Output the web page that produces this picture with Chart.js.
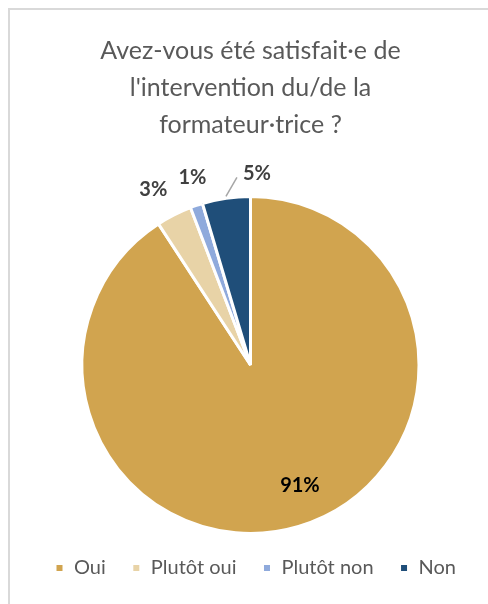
<!DOCTYPE html>
<html>
<head>
<meta charset="utf-8">
<script src="https://cdn.jsdelivr.net/npm/chart.js@4.4.0/dist/chart.umd.min.js"></script>
<style>
  body { margin: 0; background: #fff; }
  #frame { position: absolute; left: 8px; top: 8px; width: 600px; height: 700px;
           border-left: 2px solid #d9d9d9; border-top: 2px solid #d9d9d9; }
  #wrap { position: absolute; left: 0; top: 0; width: 488px; height: 604px; }
</style>
</head>
<body>
<div id="frame"></div>
<div id="wrap"><canvas id="myChart" width="488" height="604"></canvas></div>
<script>
// données
const categories = ['Oui', 'Plutôt oui', 'Plutôt non', 'Non'];
const values = [90.8, 3.4, 1.2, 4.6];
const colors = ['#D1A44F', '#E8D3A7', '#8FAADC', '#1F4E79'];
const titleLines = ["Avez-vous été satisfait·e de", "l'intervention du/de la", "formateur·trice ?"];

// étiquettes de pourcentage
const pctLabels = {
    id: 'pctLabels',
    afterLayout(chart) {
        // légende un peu décalée comme dans l'original
        chart.legend.left += 5;
        chart.legend.right += 5;
        chart.legend.top -= 3;
        chart.legend.bottom -= 3;
    },
    afterDatasetsDraw(chart) {
        const ctx = chart.ctx;
        const meta = chart.getDatasetMeta(0);
        const total = values.reduce((a, b) => a + b, 0);
        const nudge = [[12, -5], [-8, 0], [5, -1]];
        ctx.save();
        ctx.font = 'bold 20px Lato';
        ctx.textAlign = 'center';
        ctx.textBaseline = 'middle';
        meta.data.forEach((arc, i) => {
            const p = arc.getProps(['x', 'y', 'startAngle', 'endAngle', 'outerRadius'], true);
            const mid = (p.startAngle + p.endAngle) / 2;
            const txt = Math.round(values[i] / total * 100) + '%';
            if (i === 0) {
                const d = p.outerRadius * 0.78;
                ctx.fillStyle = '#000';
                ctx.fillText(txt, p.x + Math.cos(mid) * d + nudge[0][0], p.y + Math.sin(mid) * d + nudge[0][1]);
            } else if (i === 3) {
                // ligne de rappel
                const x0 = p.x + Math.cos(mid) * (p.outerRadius + 2);
                const y0 = p.y + Math.sin(mid) * (p.outerRadius + 2);
                ctx.strokeStyle = '#a6a6a6';
                ctx.lineWidth = 1.5;
                ctx.beginPath();
                ctx.moveTo(x0, y0);
                ctx.lineTo(x0 + 11, y0 - 19);
                ctx.stroke();
                ctx.fillStyle = '#404040';
                ctx.fillText(txt, x0 + 31, y0 - 23);
            } else {
                const d = p.outerRadius + 28;
                ctx.fillStyle = '#404040';
                ctx.fillText(txt, p.x + Math.cos(mid) * d + nudge[i][0], p.y + Math.sin(mid) * d + nudge[i][1]);
            }
        });
        ctx.restore();
    }
};

const ctx = document.getElementById('myChart').getContext('2d');
new Chart(ctx, {
    type: 'pie',
    data: {
        labels: categories,
        datasets: [{
            data: values,
            backgroundColor: colors,
            borderColor: '#ffffff',
            borderWidth: 3
        }]
    },
    options: {
        responsive: false,
        animation: false,
        layout: { padding: { left: 13, right: 0, top: 0, bottom: 13 } },
        plugins: {
            title: {
                display: true,
                text: titleLines,
                color: '#595959',
                font: { family: 'Lato', size: 25, weight: 'normal', lineHeight: 1.48 },
                padding: { top: 32, bottom: 52 }
            },
            legend: {
                position: 'bottom',
                labels: {
                    color: '#595959',
                    font: { family: 'Lato', size: 20 },
                    boxWidth: 9,
                    boxHeight: 9,
                    padding: 26
                }
            },
            tooltip: { enabled: false }
        }
    },
    plugins: [pctLabels]
});
</script>
</body>
</html>
